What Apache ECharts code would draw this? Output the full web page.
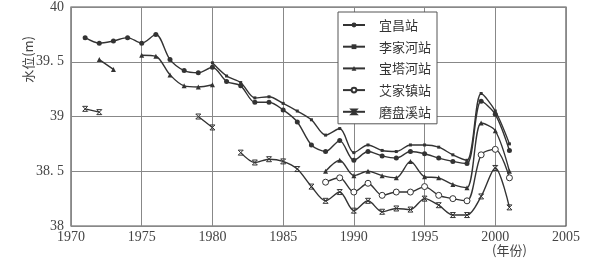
<!DOCTYPE html>
<html><head><meta charset="utf-8">
<script src="https://cdn.jsdelivr.net/npm/echarts@6/dist/echarts.min.js"></script>
<style>html,body{margin:0;padding:0;background:#fff}#c{width:612px;height:263px}</style>
</head><body><div id="c"></div>
<script>
var years = [1971,1972,1973,1974,1975,1976,1977,1978,1979,1980,1981,1982,1983,1984,1985,1986,1987,1988,1989,1990,1991,1992,1993,1994,1995,1996,1997,1998,1999,2000,2001];
var yichang = [39.72,39.67,39.69,39.72,39.67,39.75,39.52,39.42,39.40,39.45,39.32,39.28,39.13,39.13,39.06,38.95,38.74,38.68,38.78,38.60,38.68,38.64,38.62,38.68,38.66,38.62,38.59,38.57,39.14,39.02,38.69];
var lijiahe = [null,null,null,null,null,null,null,null,null,39.49,39.37,39.31,39.17,39.18,39.12,39.05,38.97,38.83,38.89,38.67,38.74,38.69,38.68,38.74,38.74,38.72,38.65,38.60,39.21,39.05,38.75];
var baotahe = [null,39.52,39.43,null,39.56,39.55,39.38,39.28,39.27,39.29,null,null,null,null,null,null,null,38.50,38.60,38.46,38.50,38.46,38.44,38.59,38.45,38.44,38.38,38.35,38.94,38.87,38.50];
var aijiazhen = [null,null,null,null,null,null,null,null,null,null,null,null,null,null,null,null,null,38.40,38.44,38.31,38.39,38.28,38.31,38.31,38.36,38.28,38.25,38.23,38.65,38.70,38.44];
var mopanxi = [39.07,39.04,null,null,null,null,null,null,39.00,38.90,null,38.67,38.58,38.61,38.59,38.52,38.36,38.23,38.31,38.14,38.23,38.13,38.16,38.15,38.25,38.19,38.10,38.10,38.27,38.53,38.17];
var names = ['宜昌站','李家河站','宝塔河站','艾家镇站','磨盘溪站'];
var yTickLabels = {'38':'38','38.5':'38. 5','39':'39','39.5':'39. 5','40':'40'};
var yName = '水位(m)';
var xName = '(年份)';

function pairs(arr){ return years.map(function(y,i){ return [y, arr[i]]; }); }
var lc = '#333';
var base = {type:'line', smooth:0.3, connectNulls:false, lineStyle:{color:lc,width:1.4}, z:3};
function mk(name, arr, symbol, size, itemStyle){
  return Object.assign({}, base, {name:name, data:pairs(arr), symbol:symbol, symbolSize:size, itemStyle:itemStyle, showSymbol:true});
}
var chart = echarts.init(document.getElementById('c'), null, {renderer:'canvas'});
var font = 'Liberation Serif';
chart.setOption({
  animation:false,
  backgroundColor:'#fff',
  grid:{left:71, right:46, top:7, bottom:37, show:true, borderColor:'#555', borderWidth:1.2},
  xAxis:{type:'value', min:1970, max:2005, interval:5,
    axisLine:{show:false}, axisTick:{show:false},
    splitLine:{show:true, lineStyle:{color:'#888', width:1}},
    axisLabel:{color:'#444', fontFamily:font, fontSize:14, margin:4, formatter:function(v){return String(v);}}},
  yAxis:{type:'value', min:38, max:40, interval:0.5,
    axisLine:{show:false}, axisTick:{show:false},
    splitLine:{show:true, lineStyle:{color:'#888', width:1}},
    axisLabel:{color:'#444', fontFamily:font, fontSize:14, margin:7,
      formatter:function(v){ var k=String(v); return yTickLabels[k]!==undefined?yTickLabels[k]:k; }}},
  legend:{orient:'vertical', left:338, top:12, width:96,
    backgroundColor:'#fff', borderColor:'#555', borderWidth:1,
    padding:[6,6,5,4], itemWidth:22, itemHeight:6, itemGap:7.7,
    textStyle:{fontFamily:'Noto Sans CJK SC', fontSize:13, lineHeight:14, color:'#333', padding:[0,0,0,9]},
    data:names},
  graphic:[
    {type:'text', left:22, top:36, rotation:Math.PI/2,
      style:{text:yName, font:'13px "Noto Sans CJK SC"', fill:'#444'}},
    {type:'text', left:492, top:244,
      style:{text:xName, font:'13px "Noto Sans CJK SC"', fill:'#444'}}
  ],
  series:[
    mk(names[0], yichang, 'circle', 5, {color:lc}),
    mk(names[1], lijiahe, 'rect', 3, {color:lc}),
    mk(names[2], baotahe, 'triangle', 5, {color:lc}),
    mk(names[3], aijiazhen, 'circle', 6, {color:'#fff', borderColor:lc, borderWidth:1}),
    mk(names[4], mopanxi, 'path://M0,0L10,0L0,10L10,10Z', 5, {color:'rgba(0,0,0,0)', borderColor:lc, borderWidth:1})
  ]
});
</script></body></html>
